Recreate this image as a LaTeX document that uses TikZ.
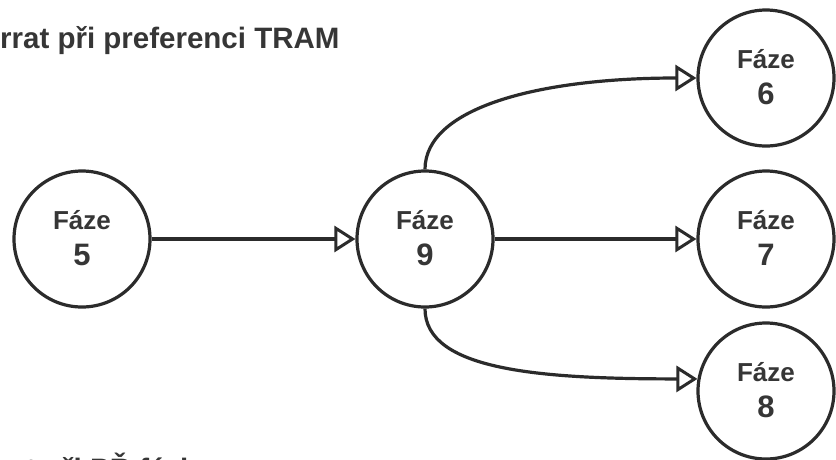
\documentclass[tikz,border=0pt]{standalone}
\usepackage{fontspec}
\setmainfont{Liberation Sans}
\usetikzlibrary{arrows.meta}
\definecolor{ink}{HTML}{2B2B2B}
\definecolor{txt}{HTML}{363636}
\tikzset{
  phase/.style={circle, draw=ink, line width=3.2pt, minimum size=136pt,
    inner sep=0pt, align=center, text=txt,
    font=\fontsize{26}{36}\selectfont\bfseries},
  flow/.style={draw=ink, line width=3.2pt,
    -{Triangle[open, length=21pt, width=26pt, line width=3pt]}},
  heading/.style={anchor=base west, inner sep=0pt, text=txt,
    font=\fontsize{29.5}{34}\selectfont\bfseries}
}
\newcommand{\phaselabel}[1]{Fáze\\{\fontsize{31}{36}\selectfont #1}\rule[-2pt]{0pt}{0pt}}
\begin{document}
\begin{tikzpicture}[x=1pt, y=-1pt]
  \useasboundingbox (0,0) rectangle (836,459);
  \clip (0,0) rectangle (836,459);
  \fill[white] (0,0) rectangle (836,459);

  % headings
  \node[heading] (top) at (0,48) {rrat při preferenci TRAM};
  \node[heading] (bottom) at (26,479) {t při PŘ fázi};

  % phases
  \node[phase] (f5) at (82,239) {\phaselabel{5}};
  \node[phase] (f9) at (425,239) {\phaselabel{9}};
  \node[phase] (f6) at (766,78) {\phaselabel{6}};
  \node[phase] (f7) at (766,239) {\phaselabel{7}};
  \node[phase] (f8) at (766,391) {\phaselabel{8}};

  % transitions
  \draw[flow] (f5) -- (f9);
  \draw[flow] (f9) -- (f7);
  \draw[flow] (f9.north) .. controls ++(0,-62) and ++(-157,0) .. (f6.west);
  \draw[flow] (f9.south) .. controls ++(0,62) and ++(-157,0) .. (f8.170);
\end{tikzpicture}
\end{document}
